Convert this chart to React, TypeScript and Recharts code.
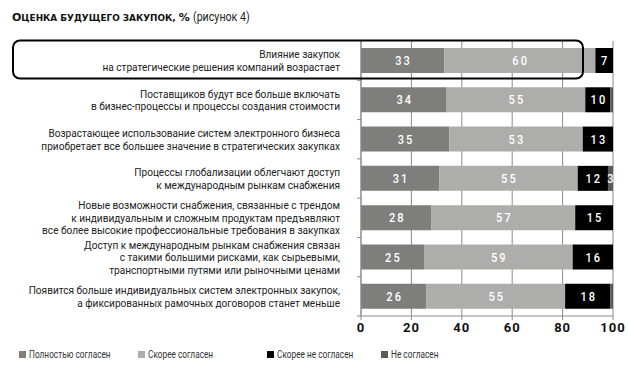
import React from "react";
import { BarChart, Bar, XAxis, YAxis, CartesianGrid, Legend, LabelList } from "recharts";

const categories = [
  "Влияние закупок\nна стратегические решения компаний возрастает",
  "Поставщиков будут все больше включать\nв бизнес-процессы и процессы создания стоимости",
  "Возрастающее использование систем электронного бизнеса\nприобретает все большее значение в стратегических закупках",
  "Процессы глобализации облегчают доступ\nк международным рынкам снабжения",
  "Новые возможности снабжения, связанные с трендом\nк индивидуальным и сложным продуктам предъявляют\nвсе более высокие профессиональные требования в закупках",
  "Доступ к международным рынкам снабжения связан\nс такими большими рисками, как сырьевыми,\nтранспортными путями или рыночными ценами",
  "Появится больше индивидуальных систем электронных закупок,\nа фиксированных рамочных договоров станет меньше",
];
const fullyAgree = [33, 34, 35, 31, 28, 25, 26];
const ratherAgree = [60, 55, 53, 55, 57, 59, 55];
const ratherDisagree = [7, 10, 13, 12, 15, 16, 18];
const disagree = [0, 1, 0, 3, 0, 0, 1];
const seriesNames = ["Полностью согласен", "Скорее согласен", "Скорее не согласен", "Не согласен"];
const xTicks = [0, 20, 40, 60, 80, 100];

const colors = ["#7e7e7c", "#adadab", "#000000", "#5a5a58"];
const keys = ["fully", "rather", "ratherNot", "not"];
const FONT = "Roboto, 'Liberation Sans', sans-serif";
const SQUEEZE = 0.87;

const data = categories.map((name, i) => ({
  name,
  fully: fullyAgree[i],
  rather: ratherAgree[i],
  ratherNot: ratherDisagree[i],
  not: disagree[i],
}));

const BAND = 39.3;

const CategoryTick = (props: any) => {
  const { x, y, payload } = props;
  const lines: string[] = String(payload.value).split("\n");
  const lh = 12.5;
  const start = -((lines.length - 1) * lh) / 2;
  return (
    <g>
      <line x1={x - 4} x2={x} y1={y + BAND / 2} y2={y + BAND / 2} stroke="#888" strokeWidth={1} />
      <g transform={`translate(${x - 21}, ${y}) scale(${SQUEEZE}, 1)`}>
        <text x={0} y={0} textAnchor="end" fontFamily={FONT} fontSize={11.6} fill="#222">
          {lines.map((l, i) => (
            <tspan key={i} x={0} y={start + i * lh} dy="0.35em">
              {l}
            </tspan>
          ))}
        </text>
      </g>
    </g>
  );
};

const BarLabel = (props: any) => {
  const { x, y, width, height, value } = props;
  if (!value || value < 3) return null;
  return (
    <g transform={`translate(${x + width / 2 + 1}, ${y + height / 2}) scale(0.85, 1)`}>
      <text
        x={0}
        y={0}
        dy="0.36em"
        textAnchor="middle"
        fill="#fff"
        fontFamily={FONT}
        fontSize={13}
        fontWeight={500}
        letterSpacing={2.5}
      >
        {value}
      </text>
    </g>
  );
};

const legendLefts = [19, 138, 267, 381];

const LegendContent = (props: any) => {
  const payload = [...(props.payload || [])].sort(
    (a: any, b: any) => seriesNames.indexOf(a.value) - seriesNames.indexOf(b.value)
  );
  return (
    <div style={{ position: "relative", width: 628, height: 29 }}>
      {payload.map((p: any, i: number) => (
        <div
          key={i}
          style={{
            position: "absolute",
            left: legendLefts[i],
            top: 6,
            display: "flex",
            alignItems: "center",
            fontFamily: FONT,
            fontSize: 11.5,
            color: "#333",
            whiteSpace: "nowrap",
          }}
        >
          <span style={{ display: "inline-block", width: 7, height: 7, background: p.color, marginRight: 3 }} />
          <span style={{ display: "inline-block", transform: "scaleX(0.72)", transformOrigin: "left center" }}>
            {p.value}
          </span>
        </div>
      ))}
    </div>
  );
};

export default function App() {
  return (
    <div style={{ position: "absolute", left: 0, top: 0, width: 628, height: 370, background: "#fff" }}>
      <BarChart
        width={628}
        height={370}
        data={data}
        layout="vertical"
        margin={{ top: 41, right: 15, bottom: 0, left: 0 }}
        barSize={25}
      >
        <CartesianGrid vertical horizontal={false} stroke="#8a8a8a" />
        <XAxis
          type="number"
          domain={[0, 100]}
          ticks={xTicks}
          allowDataOverflow
          stroke="#8a8a8a"
          tickSize={4}
          tickMargin={3}
          height={25}
          tick={{ fontFamily: FONT, fontSize: 13, fontWeight: 700, fill: "#111", letterSpacing: 1 }}
        />
        <YAxis
          type="category"
          dataKey="name"
          width={361}
          stroke="#8a8a8a"
          tickSize={0}
          tickMargin={0}
          tickLine={false}
          tick={<CategoryTick />}
          interval={0}
        />
        <Legend verticalAlign="bottom" content={<LegendContent />} />
        {keys.map((k, i) => (
          <Bar key={k} dataKey={k} name={seriesNames[i]} stackId="a" fill={colors[i]} isAnimationActive={false}>
            <LabelList dataKey={k} content={<BarLabel />} />
          </Bar>
        ))}
      </BarChart>
      <svg
        width={628}
        height={370}
        style={{ position: "absolute", left: 0, top: 0, pointerEvents: "none" }}
      >
        <text x={12} y={21} fontFamily="'DejaVu Sans', sans-serif" fontWeight={900} fill="#111">
          <tspan fontSize={11}>О</tspan>
          <tspan fontSize={8.9}>ЦЕНКА БУДУЩЕГО ЗАКУПОК, </tspan>
          <tspan fontSize={11}>%</tspan>
        </text>
        <g transform="translate(193, 21) scale(0.82, 1)">
          <text x={0} y={0} fontFamily={FONT} fontSize={13} fill="#222">
            (рисунок 4)
          </text>
        </g>
        <rect x={13} y={40.5} width={570} height={38} rx={7} ry={7} fill="none" stroke="#000" strokeWidth={2} />
      </svg>
    </div>
  );
}
